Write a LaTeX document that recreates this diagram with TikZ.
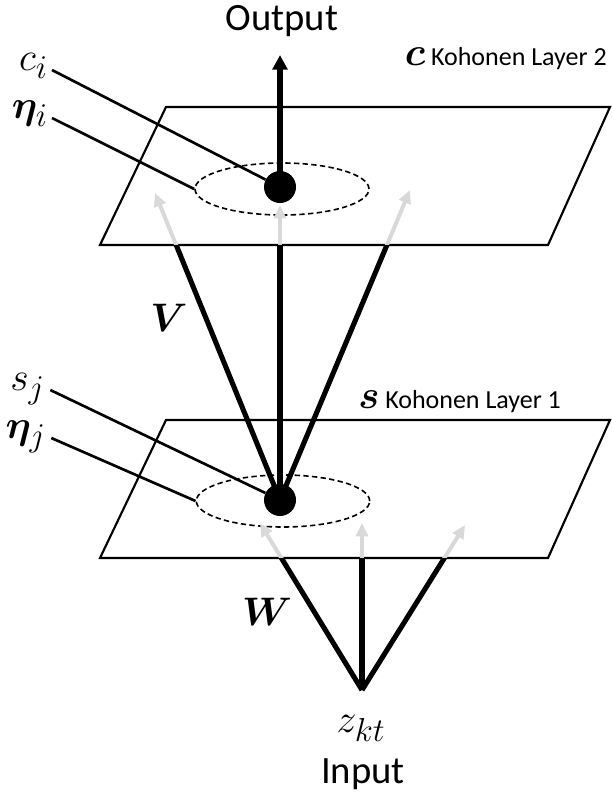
\documentclass[tikz,border=0pt]{standalone}
\usepackage{amsmath,bm}
\usepackage{fontspec}
\setmainfont{Carlito}
\usetikzlibrary{arrows.meta,shapes.geometric}

\newcommand{\msym}[1]{\scalebox{1.2}{$#1$}}

\tikzset{
  layer/.style={line width=1.6pt},
  leader/.style={line width=2pt},
  hood/.style={draw, ellipse, dash pattern=on 4pt off 2.5pt, line width=1.2pt, inner sep=0pt},
  unit/.style={circle, fill=black, inner sep=0pt, minimum size=24pt},
  weight/.style={line width=3.8pt},
  ghost/.style={line width=3pt, draw=black!15, -{Triangle[length=10pt,width=9pt]}},
  txt/.style={font=\fontsize{19.5}{24}\selectfont, inner sep=0pt},
  big/.style={font=\fontsize{29}{32}\selectfont, inner sep=0pt},
  sym/.style={font=\fontsize{24.88}{28}\selectfont, inner sep=0pt}
}

\begin{document}
\begin{tikzpicture}[x=0.75pt, y=-0.75pt]
\useasboundingbox (0,0) rectangle (611,796);

% the two layers
\draw[layer] (166,107) -- (610,107) -- (548,245) -- (100,245) -- cycle;
\draw[layer] (166,420) -- (610,420) -- (548,558) -- (100,558) -- cycle;

% neighbourhoods
\node[hood, minimum width=130.5pt, minimum height=39pt] (hoodc) at (282,189) {};
\node[hood, minimum width=130pt, minimum height=39pt] (hoods) at (283,501) {};

% tips of the weight arrows
\coordinate (z) at (362,690);
\coordinate (w1) at (260,523);
\coordinate (w2) at (362,523);
\coordinate (w3) at (465,525);
\coordinate (v1) at (155,193);
\coordinate (v2) at (280,205);
\coordinate (v3) at (410,190);
\coordinate (top) at (280,55);

\draw[ghost] (z) -- (w1);
\draw[ghost] (z) -- (w2);
\draw[ghost] (z) -- (w3);
\draw[ghost] (280,500) -- (v1);
\draw[ghost] (280,500) -- (v2);
\draw[ghost] (280,500) -- (v3);

\begin{scope}
\clip (0,558) rectangle (611,796);
\draw[weight] (z) -- (w1);
\draw[weight] (z) -- (w2);
\draw[weight] (z) -- (w3);
\end{scope}
\begin{scope}
\clip (0,245) rectangle (611,796);
\draw[weight] (280,500) -- (v1);
\draw[weight] (280,500) -- (v2);
\draw[weight] (280,500) -- (v3);
\end{scope}

% winning units
\node[unit] (c) at (280,187) {};
\node[unit] (s) at (280,500) {};
\draw[weight, -{Triangle[length=11pt,width=11pt]}] (c.center) -- (top);

% labels
\node[big, anchor=base] (out) at (282,31) {Output};
\node[big, anchor=base] (in) at (363,783) {Input};
\node[sym, anchor=base] (zkt) at (361,732) {\msym{z_{kt}}};
\node[sym] (V) at (169,318) {\msym{\boldsymbol{V}}};
\node[sym] (W) at (267,612) {\msym{\boldsymbol{W}}};

\node[txt, anchor=base east] (l2) at (607,65) {Kohonen Layer 2};
\node[sym, anchor=base east] (cvec) at ([xshift=-4pt]l2.base west) {\msym{\boldsymbol{c}}};
\node[txt, anchor=base west] (l1) at (385,408) {Kohonen Layer 1};
\node[sym, anchor=base east] (svec) at ([xshift=-4pt]l1.base west) {\msym{\boldsymbol{s}}};

\node[sym, anchor=base east] (ci) at (48,70) {\msym{c_i}};
\node[sym, anchor=base east] (etai) at (48,118) {\msym{\boldsymbol{\eta}_i}};
\node[sym, anchor=base east] (sj) at (45,390) {\msym{s_j}};
\node[sym, anchor=base east] (etaj) at (46,438) {\msym{\boldsymbol{\eta}_j}};

\draw[leader] ([xshift=3pt]ci.base east) -- (c);
\draw[leader] ([xshift=3pt]etai.base east) -- (hoodc.west);
\draw[leader] ([xshift=4pt]sj.base east) -- (s);
\draw[leader] ([xshift=4pt]etaj.base east) -- (hoods.west);
\end{tikzpicture}
\end{document}
